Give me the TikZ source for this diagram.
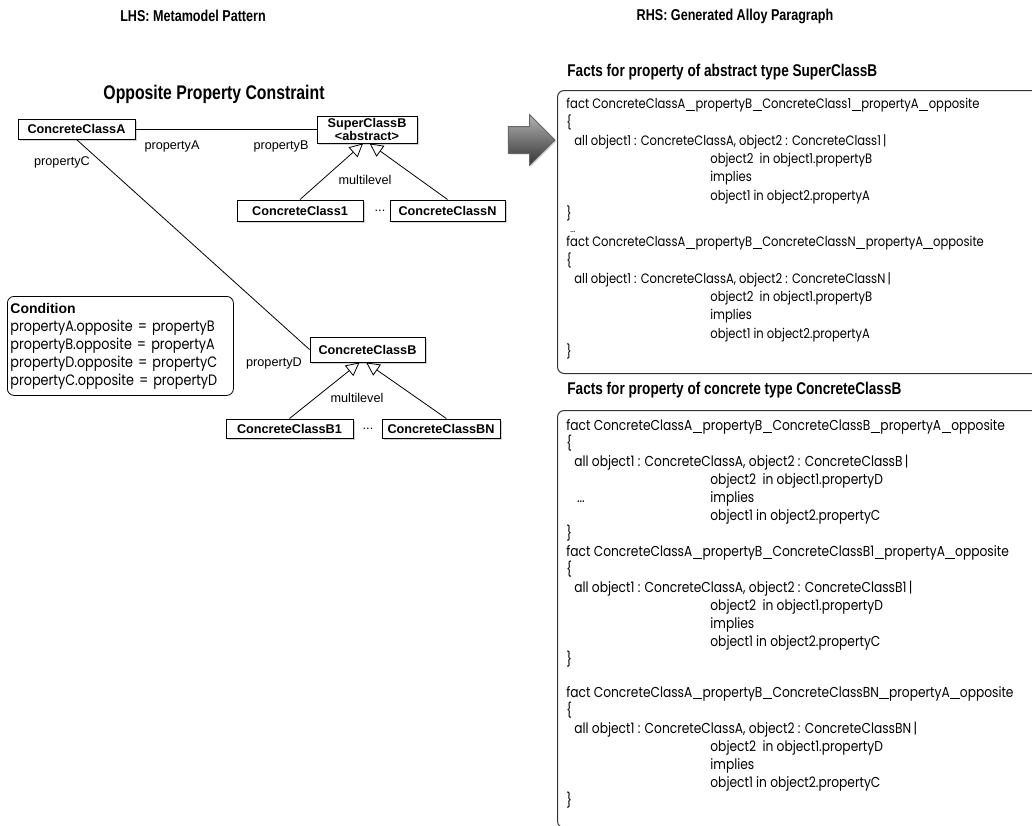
\documentclass[tikz,border=0pt]{standalone}
\usepackage{fontspec}
\setmainfont{Liberation Sans}
\newfontfamily\headfont[FakeStretch=0.8]{Liberation Sans}
\newfontfamily\codefont[FakeStretch=0.85]{Poppins}
\usetikzlibrary{arrows.meta,positioning,shapes.arrows,shadows}
\newcommand{\uscore}{\kern0.3pt\rule[-1.5pt]{7pt}{0.5pt}\kern0.3pt}

\begin{document}
\begin{tikzpicture}[
    x=0.75pt, y=-0.75pt,
    font=\fontsize{9.5}{11}\selectfont,
    line width=0.6pt,
    cls/.style={draw, fill=white, line width=0.75pt, inner sep=1pt, minimum height=15pt, align=center,
      font=\fontsize{9.5}{9.5}\selectfont\bfseries,
      drop shadow={shadow xshift=1.2pt, shadow yshift=-1.2pt, opacity=0.35}},
    lbl/.style={inner sep=0pt, font=\fontsize{9.5}{11}\selectfont},
    gen/.style={-{Triangle[open, length=10pt, width=10pt]}},
    title/.style={inner sep=0pt, font=\headfont\fontsize{11.8}{13}\selectfont\bfseries},
    head/.style={inner sep=0pt, anchor=west, font=\headfont\fontsize{12.75}{14}\selectfont\bfseries},
    codebox/.style={draw=black!80, rounded corners=5pt, line width=0.75pt, anchor=north west, inner sep=0pt},
    code/.style={inner sep=0pt, anchor=north west, align=left}
]
\useasboundingbox (0,0) rectangle (1032,825);

% titles
\node[title] (lhs) at (193,16) {LHS: Metamodel Pattern};
\node[title] (rhs) at (735,16) {RHS: Generated Alloy Paragraph};

% metamodel pattern
\node[title, font=\headfont\fontsize{14.8}{16}\selectfont\bfseries] (opc) at (214,94) {Opposite Property Constraint};

\node[cls, minimum width=87.75pt] (ccA) at (76.5,129) {ConcreteClassA};
\node[cls, minimum width=75pt, minimum height=20.25pt] (supB) at (367,129.5) {SuperClassB\\<abstract>};
\node[cls, minimum width=94.5pt, minimum height=15.75pt] (cc1) at (300,210.5) {ConcreteClass1};
\node[cls, minimum width=86.25pt, minimum height=15.75pt] (ccN) at (447.5,210.5) {ConcreteClassN};
\node[cls, minimum width=86.25pt, minimum height=18.75pt] (ccB) at (367.5,349.5) {ConcreteClassB};
\node[cls, minimum width=95.25pt, minimum height=14.25pt] (ccB1) at (289.5,428.5) {ConcreteClassB1};
\node[cls, minimum width=88.5pt, minimum height=14.25pt] (ccBN) at (441,428.5) {ConcreteClassBN};

\draw (ccA.east) -- (ccA.east -| supB.west);
\draw (ccA.south) -- (ccB.west);
\draw[gen] (cc1.north) -- ([xshift=-3pt]supB.south);
\draw[gen] (ccN.north) -- ([xshift=2pt]supB.south);
\draw[gen] (ccB1.north) -- ([xshift=-6pt]ccB.south);
\draw[gen] ([xshift=4pt]ccBN.north) -- ([xshift=-1pt]ccB.south);

\node[lbl] (pA) at (172,146) {propertyA};
\node[lbl] (pB) at (281,146) {propertyB};
\node[lbl] (pC) at (62,162) {propertyC};
\node[lbl] (pD) at (274,363) {propertyD};
\node[lbl] (ml1) at (365,180) {multilevel};
\node[lbl] (ml2) at (357,398) {multilevel};
\node[lbl] (dots1) at (380,211) {...};
\node[lbl] (dots2) at (368,429) {...};

\node[draw, rounded corners=5pt, anchor=north west, minimum width=169.5pt, minimum height=74.25pt,
  inner xsep=2.25pt, inner ysep=0pt, text width=165pt, align=left, font=\codefont\fontsize{11.3}{13.5}\selectfont] (cond) at (7,296)
  {{\normalfont\fontsize{10.5}{12}\selectfont\bfseries Condition}\\
   propertyA.opposite = propertyB\\
   propertyB.opposite = propertyA\\
   propertyD.opposite = propertyC\\
   propertyC.opposite = propertyD};

% transformation
\node[single arrow, draw=black!60, inner sep=0pt, minimum height=35pt,
  single arrow head extend=9pt, top color=black!30, bottom color=black!80,
  drop shadow={shadow xshift=1pt, shadow yshift=-1pt, opacity=0.3}] (bigarrow) at (525,140) {\rule{0pt}{19.5pt}};

% generated alloy paragraph
\node[head] (hd1) at (567,72) {Facts for property of abstract type SuperClassB};
\node[codebox, minimum width=366pt, minimum height=212.25pt] (box1) at (557,90) {};
\node[code, font=\codefont\fontsize{10.2}{13.7}\selectfont] (code1) at (566,98) {%
fact ConcreteClassA\uscore propertyB\uscore ConcreteClass1\uscore propertyA\uscore opposite\\
\{\\
\hspace*{6pt}all object1 : ConcreteClassA, object2 : ConcreteClass1\,|\\
\hspace*{108pt}object2\ \ in object1.propertyB\\
\hspace*{108pt}implies\\
\hspace*{108pt}object1 in object2.propertyA\\
\}\\[-3pt]
\hspace*{3pt}{\scriptsize ...}\\[-3pt]
fact ConcreteClassA\uscore propertyB\uscore ConcreteClassN\uscore propertyA\uscore opposite\\
\{\\
\hspace*{6pt}all object1 : ConcreteClassA, object2 : ConcreteClassN\,|\\
\hspace*{108pt}object2\ \ in object1.propertyB\\
\hspace*{108pt}implies\\
\hspace*{108pt}object1 in object2.propertyA\\
\}};

\node[head] (hd2) at (567,390) {Facts for property of concrete type ConcreteClassB};
\node[codebox, minimum width=366pt, minimum height=313pt] (box2) at (557,410) {};
\node[code, font=\codefont\fontsize{10.8}{13.5}\selectfont] (code2) at (566,419) {%
fact ConcreteClassA\uscore propertyB\uscore ConcreteClassB\uscore propertyA\uscore opposite\\
\{\\
\hspace*{6pt}all object1 : ConcreteClassA, object2 : ConcreteClassB\,|\\
\hspace*{108pt}object2\ \ in object1.propertyD\\
\hspace*{8pt}\makebox[100pt][l]{...}implies\\
\hspace*{108pt}object1 in object2.propertyC\\
\}\\
fact ConcreteClassA\uscore propertyB\uscore ConcreteClassB1\uscore propertyA\uscore opposite\\
\{\\
\hspace*{6pt}all object1 : ConcreteClassA, object2 : ConcreteClassB1\,|\\
\hspace*{108pt}object2\ \ in object1.propertyD\\
\hspace*{108pt}implies\\
\hspace*{108pt}object1 in object2.propertyC\\
\}\\[11pt]
fact ConcreteClassA\uscore propertyB\uscore ConcreteClassBN\uscore propertyA\uscore opposite\\
\{\\
\hspace*{6pt}all object1 : ConcreteClassA, object2 : ConcreteClassBN\,|\\
\hspace*{108pt}object2\ \ in object1.propertyD\\
\hspace*{108pt}implies\\
\hspace*{108pt}object1 in object2.propertyC\\
\}};
\end{tikzpicture}
\end{document}
